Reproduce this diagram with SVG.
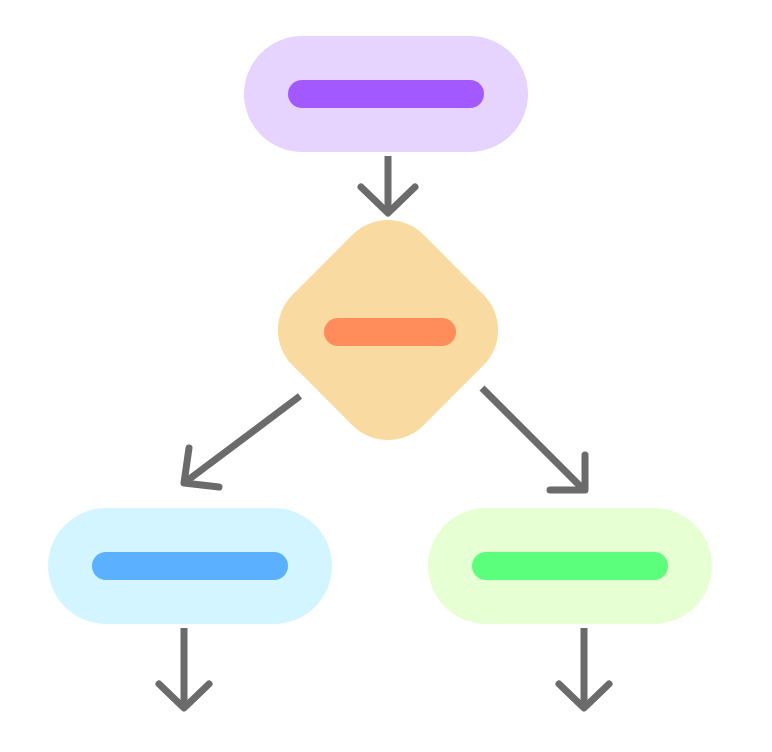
<svg xmlns="http://www.w3.org/2000/svg" width="772" height="752" viewBox="0 0 772 752">
<style>
.ln{fill:none;stroke:#6b6b6b;stroke-width:7;stroke-linecap:butt}
.hd{fill:none;stroke:#6b6b6b;stroke-width:7;stroke-linecap:round;stroke-linejoin:round}
</style>
<rect width="772" height="752" fill="#ffffff"/>
<g id="node-start">
<rect x="244" y="36" width="284" height="116" rx="58" fill="#e6d4ff"/>
<rect x="288" y="80" width="196" height="28" rx="14" fill="#a259ff"/>
</g>
<g id="node-decision">
<rect x="-92.5" y="-92.5" width="185" height="185" rx="50" fill="#f9dba2" transform="translate(388 330) rotate(45)"/>
<rect x="324" y="318" width="132" height="28" rx="14" fill="#ff8c5a"/>
</g>
<g id="node-left">
<rect x="48" y="508" width="284" height="116" rx="58" fill="#d3f5ff"/>
<rect x="92" y="552" width="196" height="28" rx="14" fill="#5bb0ff"/>
</g>
<g id="node-right">
<rect x="428" y="508" width="284" height="116" rx="58" fill="#e6ffd3"/>
<rect x="472" y="552" width="196" height="28" rx="14" fill="#5cff7b"/>
</g>
<g id="connectors">
<line class="ln" x1="388" y1="156" x2="388" y2="212"/>
<polyline class="hd" points="361,187 388,213 415,187"/>
<line class="ln" x1="300" y1="396" x2="184" y2="483"/>
<polyline class="hd" points="189,448 184,483 219,487"/>
<line class="ln" x1="482" y1="388" x2="584" y2="490"/>
<polyline class="hd" points="585,455 585,490 550,490"/>
<line class="ln" x1="184" y1="628" x2="184" y2="708"/>
<polyline class="hd" points="159,684 184,708 209,684"/>
<line class="ln" x1="584" y1="628" x2="584" y2="708"/>
<polyline class="hd" points="559,684 584,708 609,684"/>
</g>
</svg>
